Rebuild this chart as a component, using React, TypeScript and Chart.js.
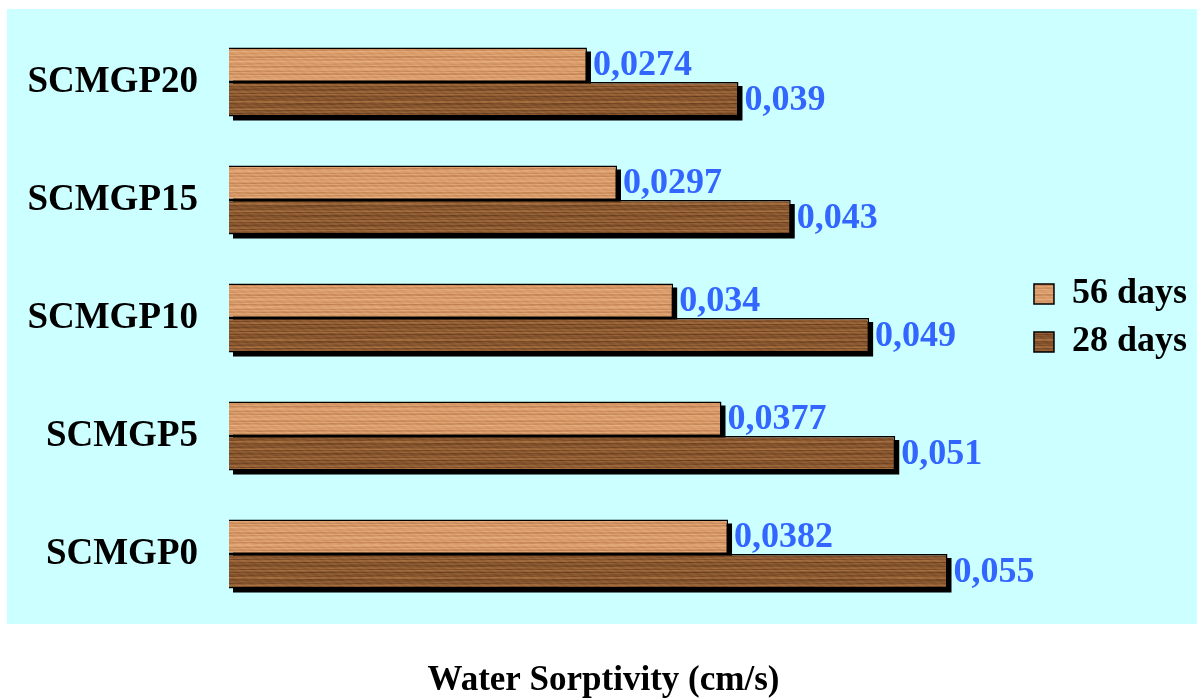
import React, { useEffect, useRef } from "react";
import { Chart, registerables } from "chart.js";

Chart.register(...registerables);

const categories = ["SCMGP20", "SCMGP15", "SCMGP10", "SCMGP5", "SCMGP0"];
const days56 = [0.0274, 0.0297, 0.034, 0.0377, 0.0382];
const days28 = [0.039, 0.043, 0.049, 0.051, 0.055];
const seriesNames = ["56 days", "28 days"];
const axisTitle = "Water Sorptivity (cm/s)";

const FONT = "'Liberation Serif', 'Times New Roman', serif";

type RGB = [number, number, number];

function makeWood(base: RGB, dark: RGB, light: RGB, seed: number): CanvasPattern | string {
  const c = document.createElement("canvas");
  c.width = 128;
  c.height = 34;
  const ctx = c.getContext("2d");
  if (!ctx) return `rgb(${base.join(",")})`;
  const img = ctx.createImageData(c.width, c.height);
  for (let y = 0; y < c.height; y++) {
    for (let x = 0; x < c.width; x++) {
      const t =
        0.4 * Math.sin(y * 1.9 + seed) +
        0.25 * Math.sin(y * 0.7 + 1.3 + seed) +
        0.2 * Math.sin(y * 3.7 + 0.4) +
        0.3 * Math.sin(x * 0.098 + y * 2.1) * Math.sin(x * 0.049 + y * 0.9 + seed) +
        0.12 * Math.sin(x * 0.59 + y * 5.3);
      const k = Math.max(-1, Math.min(1, t));
      const tgt = k < 0 ? dark : light;
      const a = Math.abs(k);
      const i = (y * c.width + x) * 4;
      img.data[i] = Math.round(base[0] + (tgt[0] - base[0]) * a);
      img.data[i + 1] = Math.round(base[1] + (tgt[1] - base[1]) * a);
      img.data[i + 2] = Math.round(base[2] + (tgt[2] - base[2]) * a);
      img.data[i + 3] = 255;
    }
  }
  ctx.putImageData(img, 0, 0);
  const p = ctx.createPattern(c, "repeat");
  return p || `rgb(${base.join(",")})`;
}

const bgPlugin = {
  id: "cyanBg",
  beforeDraw(chart: any) {
    const ctx = chart.ctx;
    ctx.save();
    ctx.fillStyle = "#CCFFFF";
    ctx.fillRect(7, 9, 1190, 615);
    ctx.restore();
  },
};

const shadowPlugin = {
  id: "barShadow",
  beforeDatasetsDraw(chart: any) {
    const ctx = chart.ctx;
    ctx.save();
    ctx.fillStyle = "#000";
    chart.data.datasets.forEach((_: any, di: number) => {
      const meta = chart.getDatasetMeta(di);
      meta.data.forEach((el: any) => {
        const { x, y, base, height } = el.getProps(["x", "y", "base", "height"], true);
        const left = Math.min(x, base);
        const w = Math.abs(x - base);
        ctx.fillRect(left + 4, y - height / 2 + 4, w, height);
      });
    });
    ctx.restore();
  },
};

const valueLabelPlugin = {
  id: "valueLabels",
  afterDatasetsDraw(chart: any) {
    const ctx = chart.ctx;
    ctx.save();
    ctx.font = `bold 36px ${FONT}`;
    ctx.fillStyle = "#3366FF";
    ctx.textAlign = "left";
    ctx.textBaseline = "middle";
    chart.data.datasets.forEach((ds: any, di: number) => {
      const meta = chart.getDatasetMeta(di);
      meta.data.forEach((el: any, i: number) => {
        const { x, y } = el.getProps(["x", "y"], true);
        const txt = String(ds.data[i]).replace(".", ",");
        ctx.fillText(txt, x + 6, y + 1);
      });
    });
    ctx.restore();
  },
};

export default function App() {
  const ref = useRef<HTMLCanvasElement | null>(null);

  useEffect(() => {
    if (!ref.current) return;
    const lightWood = makeWood([216, 154, 104], [190, 126, 80], [234, 180, 132], 0);
    const darkWood = makeWood([138, 88, 48], [98, 58, 28], [172, 116, 66], 1.7);

    const chart = new Chart(ref.current, {
      type: "bar",
      data: {
        labels: categories,
        datasets: [
          {
            label: seriesNames[0],
            data: days56,
            backgroundColor: lightWood as any,
            borderColor: "#000",
            borderWidth: 1.5,
            categoryPercentage: 0.585,
            barPercentage: 1,
          },
          {
            label: seriesNames[1],
            data: days28,
            backgroundColor: darkWood as any,
            borderColor: "#000",
            borderWidth: 1.5,
            categoryPercentage: 0.585,
            barPercentage: 1,
          },
        ],
      },
      options: {
        indexAxis: "y",
        responsive: false,
        animation: false,
        devicePixelRatio: 1,
        layout: { padding: { left: 10, top: 23, right: 0, bottom: 0 } },
        scales: {
          x: {
            type: "linear",
            min: 0,
            max: 0.0607,
            display: false,
          },
          y: {
            grid: { display: false, drawTicks: false },
            border: { display: false },
            ticks: {
              color: "#000",
              padding: 31,
              font: { family: FONT, size: 37, weight: "bold" },
            },
            afterFit(scale: any) {
              scale.width = 219;
              scale.paddingTop = 0;
              scale.paddingBottom = 0;
            },
          },
        },
        plugins: {
          legend: {
            position: "right",
            fullSize: false,
            labels: {
              color: "#000",
              boxWidth: 20,
              boxHeight: 20,
              padding: 12,
              font: { family: FONT, size: 36, weight: "bold" },
            },
          },
          title: {
            display: true,
            position: "bottom",
            text: axisTitle,
            color: "#000",
            font: { family: FONT, size: 35, weight: "bold", lineHeight: 0.95 },
            padding: { top: 51.75, bottom: 0 },
          },
          tooltip: { enabled: false },
        },
      },
      plugins: [bgPlugin, shadowPlugin, valueLabelPlugin],
    } as any);

    return () => chart.destroy();
  }, []);

  return (
    <div style={{ position: "absolute", left: 0, top: 0, width: 1197, height: 698 }}>
      <canvas ref={ref} width={1197} height={698} />
    </div>
  );
}
